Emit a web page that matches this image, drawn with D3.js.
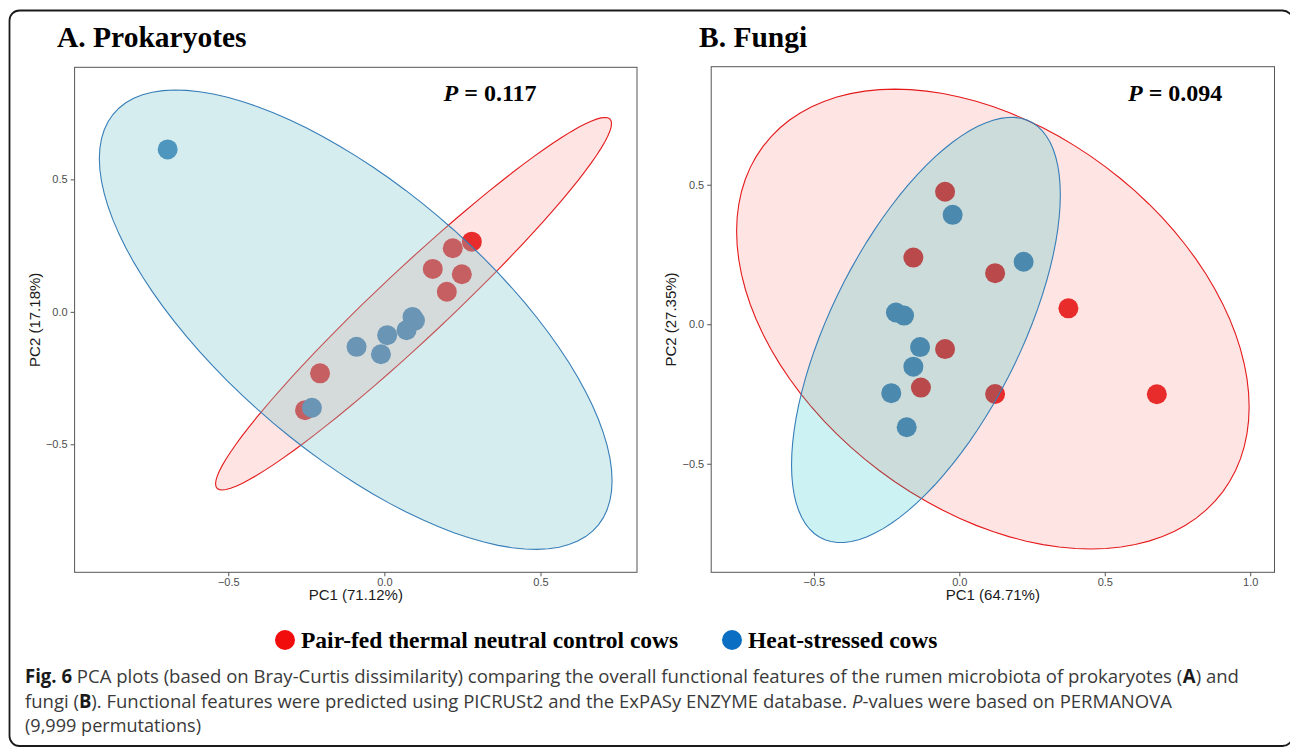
<!DOCTYPE html>
<html>
<head>
<meta charset="utf-8">
<script src="https://cdn.jsdelivr.net/npm/d3@7"></script>
<style>
  body { margin: 0; background: #fff; }
  svg { display: block; }
</style>
</head>
<body>
<div id="fig"></div>
<script>
// ---- values ----
// PCA scores [PC1, PC2], panel A (prokaryotes)
const prokControl = [[0.280, 0.265], [0.219, 0.240], [0.155, 0.162], [0.248, 0.142], [0.200, 0.076], [-0.206, -0.232], [-0.254, -0.371]];
const prokHeat = [[-0.694, 0.613], [0.090, -0.019], [0.098, -0.033], [0.071, -0.069], [0.009, -0.088], [-0.089, -0.132], [-0.011, -0.160], [-0.232, -0.362]];
// panel B (fungi)
const fungiControl = [[-0.049, 0.475], [-0.158, 0.239], [0.123, 0.183], [0.375, 0.057], [-0.049, -0.089], [-0.132, -0.227], [0.123, -0.250], [0.679, -0.251]];
const fungiHeat = [[-0.023, 0.392], [0.221, 0.224], [-0.218, 0.042], [-0.190, 0.031], [-0.135, -0.082], [-0.158, -0.152], [-0.234, -0.247], [-0.181, -0.369]];

// 95% ellipses: [centre PC1, centre PC2, half-width, half-height, correlation]
const prokControlEllipse = [0.0934, 0.0308, 0.634, 0.703, 0.967];
const prokHeatEllipse = [-0.0918, -0.0296, 0.821, 0.867, -0.701];
const fungiControlEllipse = [0.1153, 0.0185, 0.881, 0.824, -0.382];
const fungiHeatEllipse = [-0.1148, -0.0204, 0.462, 0.762, 0.635];

const xTicksA = [-0.5, 0, 0.5];
const xTicksB = [-0.5, 0, 0.5, 1.0];
const yTicks = [-0.5, 0, 0.5];
const xTitles = ["PC1 (71.12%)", "PC1 (64.71%)"];
const yTitles = ["PC2 (17.18%)", "PC2 (27.35%)"];
const panelTitles = ["A. Prokaryotes", "B. Fungi"];
const pValues = ["0.117", "0.094"];
const groups = ["Pair-fed thermal neutral control cows", "Heat-stressed cows"];

const pointColor = {control: "#e41a1c", heat: "#377eb8"};
const legendColor = {control: "#f20d0d", heat: "#0a6fc2"};

const width = 1290, height = 747;
const serif = "'Liberation Serif', 'Times New Roman', serif";
const sans = "'Liberation Sans', Arial, sans-serif";

const svg = d3.select("#fig").append("svg")
    .attr("width", width)
    .attr("height", height);

svg.append("rect")
    .attr("width", width).attr("height", height)
    .attr("fill", "#fff");

// outer frame of the figure
svg.append("rect")
    .attr("x", 9.5).attr("y", 10.5)
    .attr("width", 1283).attr("height", 735.5)
    .attr("rx", 10)
    .attr("fill", "none")
    .attr("stroke", "#1a1a1a")
    .attr("stroke-width", 1.8);

const panels = [
  {
    box: [74.6, 67.3, 637, 572.3], xDomain: [-0.992, 0.809], yDomain: [-0.983, 0.923], xTicks: xTicksA,
    control: prokControl, heat: prokHeat,
    ellipses: [["control", prokControlEllipse, "#f8766d", 0.2], ["heat", prokHeatEllipse, "#82c8cd", 0.33]],
    titleX: 57, pX: 443.6, yTitleX: 39.5
  },
  {
    box: [711.2, 66.7, 1274.5, 572.3], xDomain: [-0.853, 1.0835], yDomain: [-0.889, 0.923], xTicks: xTicksB,
    control: fungiControl, heat: fungiHeat,
    ellipses: [["control", fungiControlEllipse, "#f8766d", 0.2], ["heat", fungiHeatEllipse, "#00bfc4", 0.2]],
    titleX: 699, pX: 1128, yTitleX: 676
  }
];

function ellipsePoints(e) {
  const [cx, cy, rx, ry, r] = e;
  const phase = Math.acos(r);
  return d3.range(0, 2 * Math.PI, Math.PI / 48)
    .map(t => [cx + rx * Math.cos(t), cy + ry * Math.cos(t - phase)]);
}

panels.forEach(function(p, i) {
  const [x0, y0, x1, y1] = p.box;
  const x = d3.scaleLinear().domain(p.xDomain).range([x0, x1]);
  const y = d3.scaleLinear().domain(p.yDomain).range([y1, y0]);
  const g = svg.append("g");

  g.append("clipPath").attr("id", "clip" + i)
    .append("rect").attr("x", x0).attr("y", y0).attr("width", x1 - x0).attr("height", y1 - y0);

  const plot = g.append("g").attr("clip-path", `url(#clip${i})`);

  // points sit under the translucent ellipses
  ["control", "heat"].forEach(function(grp) {
    plot.append("g").selectAll("circle")
      .data(p[grp])
      .join("circle")
        .attr("cx", d => x(d[0]))
        .attr("cy", d => y(d[1]))
        .attr("r", 10)
        .attr("fill", pointColor[grp]);
  });

  const line = d3.line().x(d => x(d[0])).y(d => y(d[1])).curve(d3.curveLinearClosed);
  p.ellipses.forEach(function([grp, e, fill, alpha]) {
    plot.append("path")
        .attr("d", line(ellipsePoints(e)))
        .attr("fill", fill)
        .attr("fill-opacity", alpha)
        .attr("stroke", pointColor[grp])
        .attr("stroke-width", 1.1);
  });

  // axes
  const fmt = d3.format(".1f");
  const xAxis = g.append("g")
      .attr("transform", `translate(0,${y1})`)
      .call(d3.axisBottom(x).tickValues(p.xTicks).tickFormat(fmt).tickSize(4).tickPadding(2));
  const yAxis = g.append("g")
      .attr("transform", `translate(${x0},0)`)
      .call(d3.axisLeft(y).tickValues(yTicks).tickFormat(fmt).tickSize(4).tickPadding(3));
  [xAxis, yAxis].forEach(a => {
    a.select(".domain").remove();
    a.selectAll(".tick line").attr("stroke", "#555");
    a.selectAll(".tick text")
      .attr("fill", "#4d4d4d")
      .style("font-family", sans)
      .style("font-size", "11px");
  });

  g.append("rect")
      .attr("x", x0).attr("y", y0)
      .attr("width", x1 - x0).attr("height", y1 - y0)
      .attr("fill", "none")
      .attr("stroke", "#555")
      .attr("stroke-width", 1);

  g.append("text")
      .attr("x", (x0 + x1) / 2).attr("y", 600)
      .attr("text-anchor", "middle")
      .style("font-family", sans).style("font-size", "15px")
      .attr("fill", "#1a1a1a")
      .text(xTitles[i]);

  g.append("text")
      .attr("transform", `translate(${p.yTitleX},${(y0 + y1) / 2}) rotate(-90)`)
      .attr("text-anchor", "middle")
      .style("font-family", sans).style("font-size", "15px")
      .attr("fill", "#1a1a1a")
      .text(yTitles[i]);

  g.append("text")
      .attr("x", p.titleX).attr("y", 47)
      .style("font-family", serif).style("font-size", "29.5px").style("font-weight", "bold")
      .text(panelTitles[i]);

  const pt = g.append("text")
      .attr("x", p.pX).attr("y", 100.5)
      .style("font-family", serif).style("font-size", "24px").style("font-weight", "bold");
  pt.append("tspan").style("font-style", "italic").text("P");
  pt.append("tspan").text(" = " + pValues[i]);
});

// legend
const legendX = [285, 732];
["control", "heat"].forEach(function(grp, i) {
  svg.append("circle")
      .attr("cx", legendX[i]).attr("cy", 640)
      .attr("r", 10)
      .attr("fill", legendColor[grp]);
  svg.append("text")
      .attr("x", legendX[i] + 16).attr("y", 647.5)
      .style("font-family", serif).style("font-size", "23.5px").style("font-weight", "bold")
      .text(groups[i]);
});

// caption: runs laid out at natural width, then the line is squeezed to the measured width
const captionLines = [
  [["Fig. 6", "b"], [" PCA plots (based on Bray-Curtis dissimilarity) comparing the overall functional features of the rumen microbiota of prokaryotes (", ""], ["A", "b"], [") and", ""]],
  [["fungi (", ""], ["B", "b"], ["). Functional features were predicted using PICRUSt2 and the ExPASy ENZYME database. ", ""], ["P", "i"], ["-values were based on PERMANOVA", ""]],
  [["(9,999 permutations)", ""]]
];
const captionWidths = [1214, 1147, 176];
const captionY = [683, 707.5, 732];

captionLines.forEach(function(parts, i) {
  const lineG = svg.append("g");
  let cx = 0;
  parts.forEach(function([s, st]) {
    const t = lineG.append("text")
        .attr("x", cx).attr("y", 0)
        .style("white-space", "pre")
        .style("font-family", "'Open Sans', 'Noto Sans', sans-serif")
        .style("font-size", "19px")
        .attr("fill", st === "b" ? "#1a1a1a" : "#3a3a3a")
        .text(s);
    if (st === "b") t.style("font-weight", "bold");
    if (st === "i") t.style("font-style", "italic");
    cx += t.node().getComputedTextLength();
  });
  lineG.attr("transform", `translate(25,${captionY[i]}) scale(${captionWidths[i] / cx},1)`);
});
</script>
</body>
</html>
